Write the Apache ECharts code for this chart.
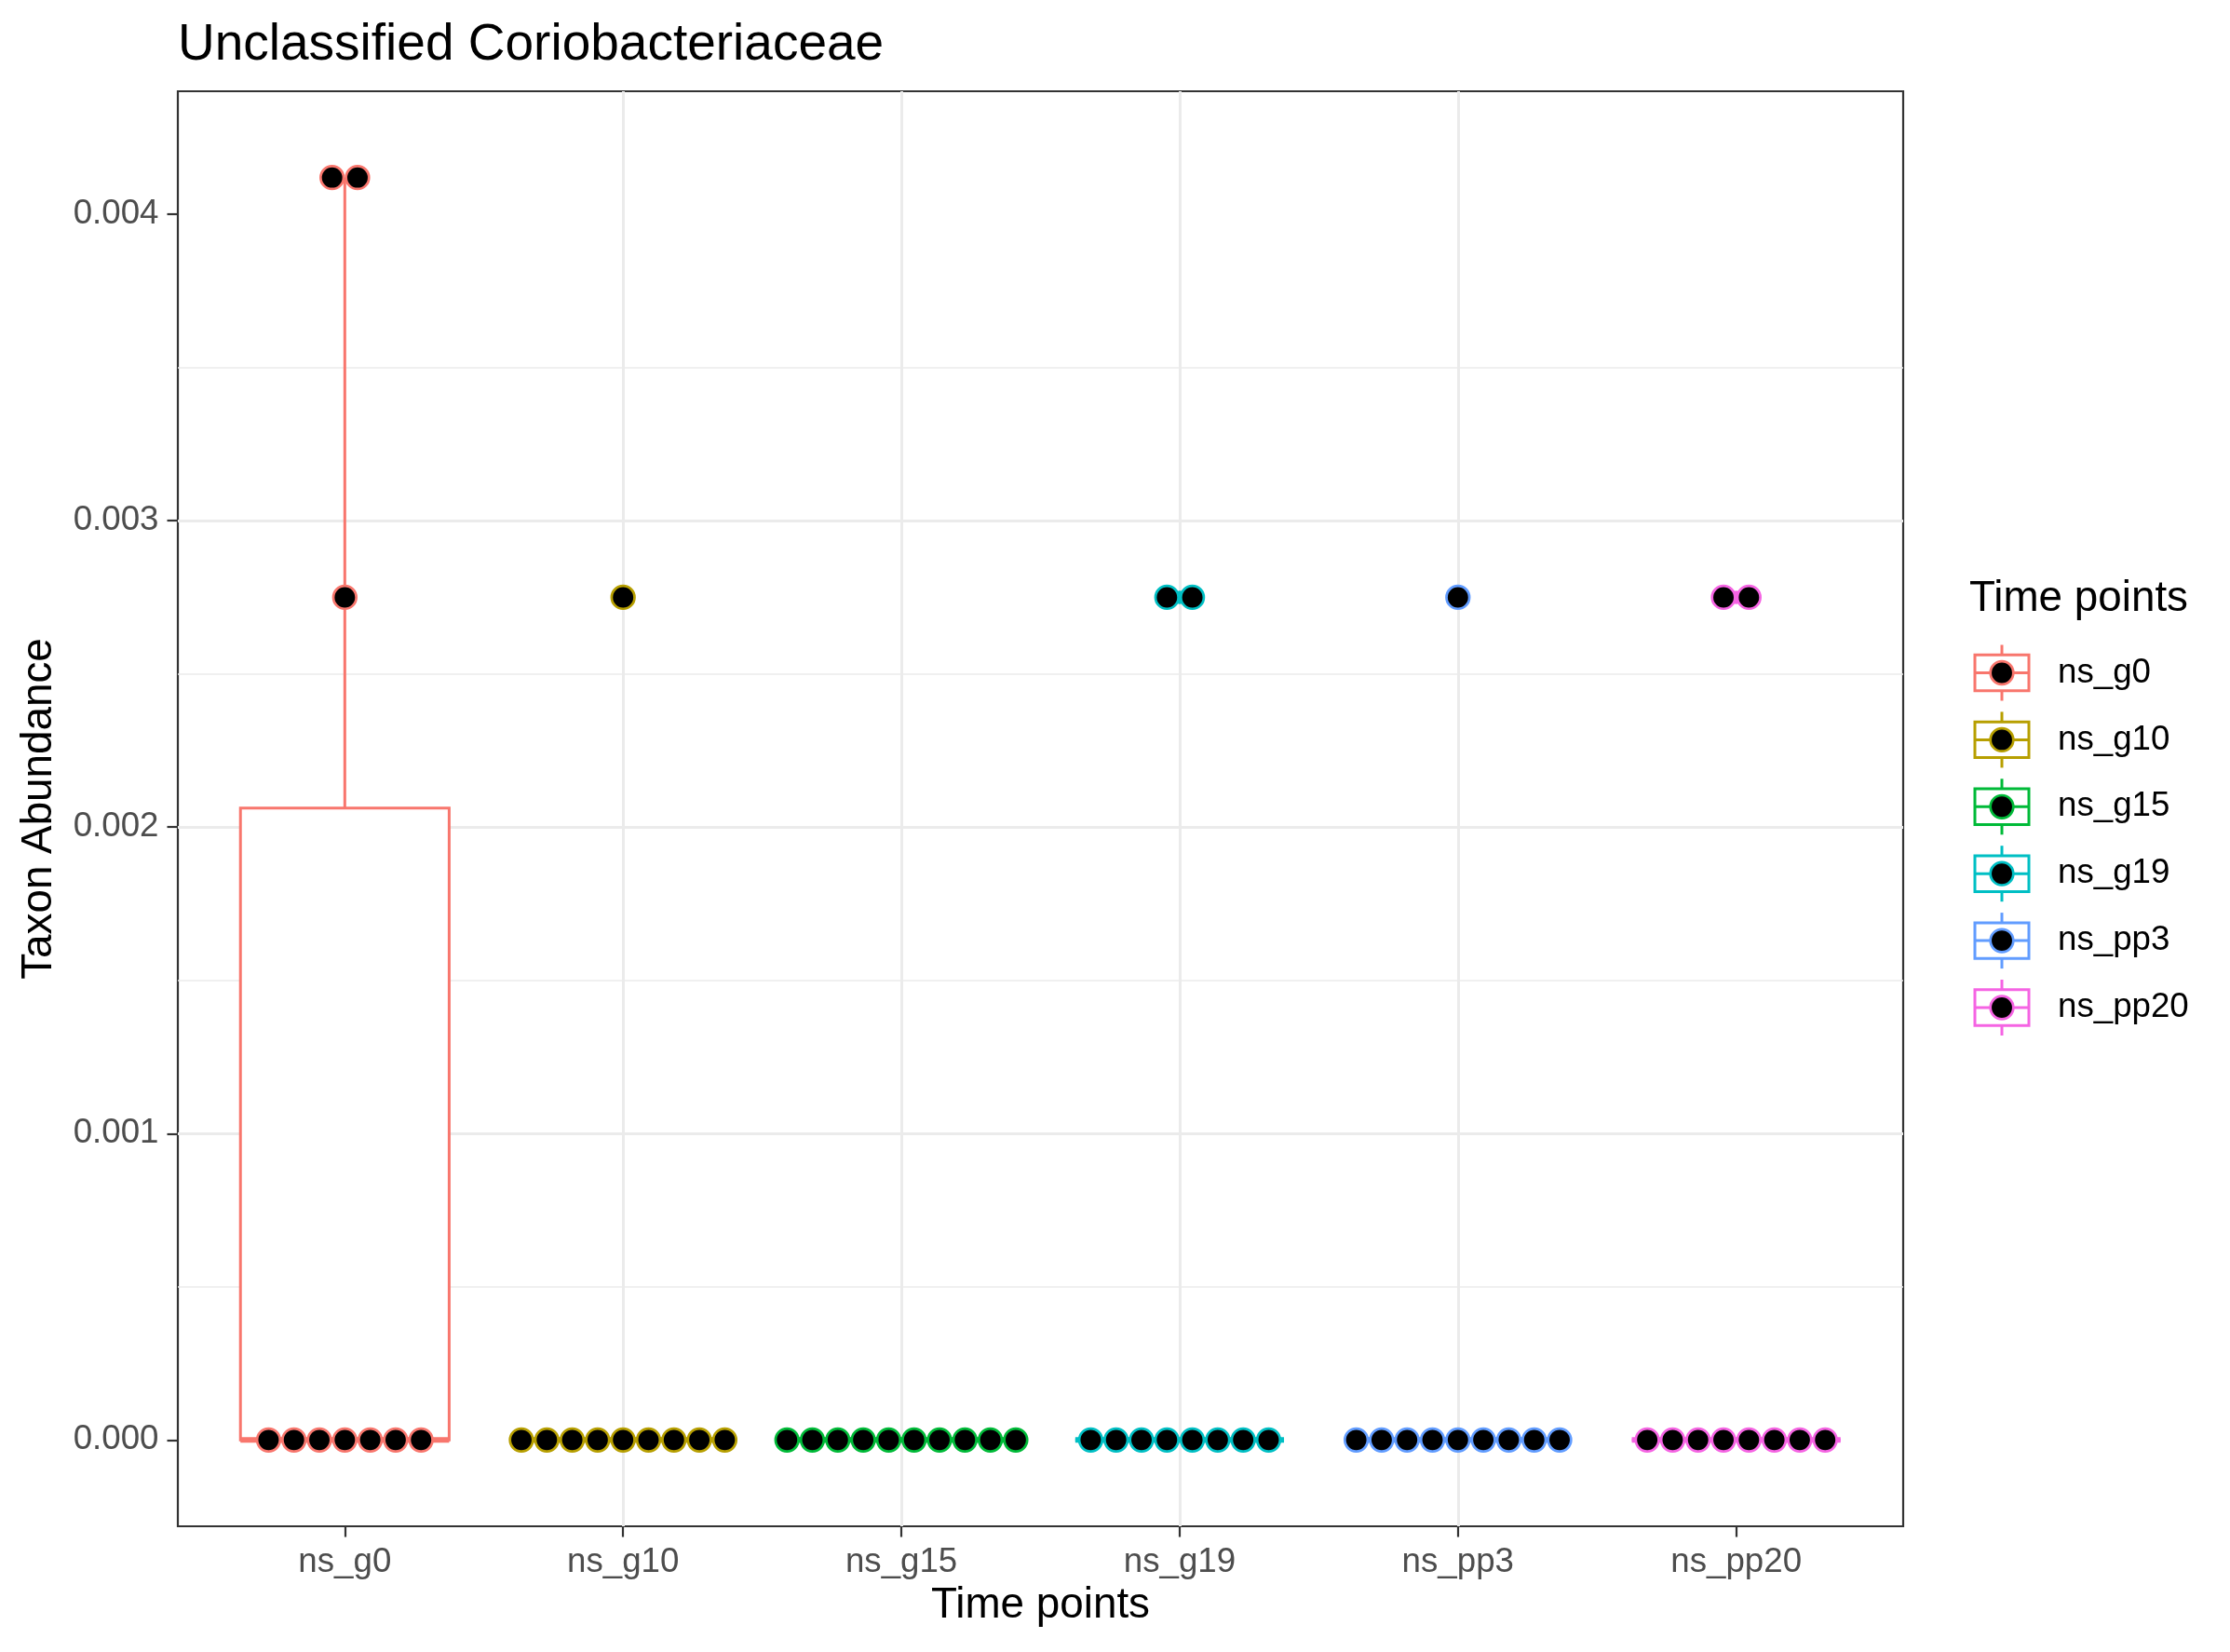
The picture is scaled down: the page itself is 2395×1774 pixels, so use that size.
<!DOCTYPE html>
<html>
<head>
<meta charset="utf-8">
<script src="https://cdn.jsdelivr.net/npm/echarts@6/dist/echarts.min.js"></script>
<style>
html,body{margin:0;padding:0;background:#ffffff;}
#chart{width:2395px;height:1774px;}
</style>
</head>
<body>
<div id="chart"></div>
<script>
// ---- data ----
const categories = ['ns_g0', 'ns_g10', 'ns_g15', 'ns_g19', 'ns_pp3', 'ns_pp20'];
const colors = ['#F8766D', '#B79F00', '#00BA38', '#00BFC4', '#619CFF', '#F564E3'];
const ns_g0   = [0, 0, 0, 0, 0, 0, 0, 0.00275, 0.00412, 0.00412];
const ns_g10  = [0, 0, 0, 0, 0, 0, 0, 0, 0, 0.00275];
const ns_g15  = [0, 0, 0, 0, 0, 0, 0, 0, 0, 0];
const ns_g19  = [0, 0, 0, 0, 0, 0, 0, 0, 0.00275, 0.00275];
const ns_pp3  = [0, 0, 0, 0, 0, 0, 0, 0, 0, 0.00275];
const ns_pp20 = [0, 0, 0, 0, 0, 0, 0, 0, 0.00275, 0.00275];
const yTickValues = [0, 0.001, 0.002, 0.003, 0.004];
const title = 'Unclassified Coriobacteriaceae';
const xTitle = 'Time points';
const yTitle = 'Taxon Abundance';
const legendTitle = 'Time points';

const groups = [ns_g0, ns_g10, ns_g15, ns_g19, ns_pp3, ns_pp20];
const FONT = '"Liberation Sans", Arial, Helvetica, sans-serif';

// ---- stats (ggplot-like, quantile type 7) ----
function quantile(sorted, p) {
  const h = (sorted.length - 1) * p;
  const lo = Math.floor(h), hi = Math.ceil(h);
  return sorted[lo] + (h - lo) * (sorted[hi] - sorted[lo]);
}
const boxData = [];
const outlierData = [];
const dotData = [];
let dataMin = Infinity, dataMax = -Infinity;
groups.forEach((vals, i) => {
  const s = vals.slice().sort((a, b) => a - b);
  const q1 = quantile(s, 0.25), med = quantile(s, 0.5), q3 = quantile(s, 0.75);
  const iqr = q3 - q1;
  const inside = s.filter(v => v >= q1 - 1.5 * iqr && v <= q3 + 1.5 * iqr);
  const lo = Math.min(...inside), hi = Math.max(...inside);
  boxData.push([i, q1, med, q3, lo, hi]);
  s.forEach(v => { if (v < q1 - 1.5 * iqr || v > q3 + 1.5 * iqr) outlierData.push([i, v]); });
  const counts = new Map();
  s.forEach(v => counts.set(v, (counts.get(v) || 0) + 1));
  counts.forEach((n, v) => { for (let j = 0; j < n; j++) dotData.push([i, v, j, n]); });
  dataMin = Math.min(dataMin, s[0]); dataMax = Math.max(dataMax, s[s.length - 1]);
});
// dotplot half-binwidth extends range, then 5% expansion
const halfBin = (dataMax - dataMin) / 30 / 2;
const rLo = dataMin - halfBin, rHi = dataMax + halfBin;
const yMin = rLo - 0.05 * (rHi - rLo);
const yMax = rHi + 0.05 * (rHi - rLo);

const catIdx = categories.map((c, i) => i);
const DOT_R = 12.3, DOT_LW = 2.7, DOT_STEP = 27.3;

const chart = echarts.init(document.getElementById('chart'), null, {renderer: 'canvas'});

// legend graphics
const legendChildren = [{
  type: 'text',
  style: {text: legendTitle, x: 2115, y: 643, verticalAlign: 'middle', align: 'left',
          font: '45.8px ' + FONT, fill: '#000'}
}];
categories.forEach((c, i) => {
  const cy = 722.5 + i * 71.9, cx = 2150, col = colors[i];
  legendChildren.push(
    {type: 'line', shape: {x1: cx, y1: cy - 30, x2: cx, y2: cy + 30}, style: {stroke: col, lineWidth: 3}},
    {type: 'rect', shape: {x: 2121, y: cy - 19.2, width: 58, height: 38.4}, style: {fill: '#fff', stroke: col, lineWidth: 3}},
    {type: 'line', shape: {x1: 2121, y1: cy, x2: 2179, y2: cy}, style: {stroke: col, lineWidth: 3}},
    {type: 'circle', shape: {cx: cx, cy: cy, r: DOT_R}, style: {fill: '#000', stroke: col, lineWidth: DOT_LW}},
    {type: 'text', style: {text: c, x: 2210, y: cy, verticalAlign: 'middle', align: 'left',
                           font: '36.7px ' + FONT, fill: '#000'}}
  );
});

const option = {
  animation: false,
  backgroundColor: '#ffffff',
  textStyle: {fontFamily: FONT},
  title: {
    text: title, left: 186, top: 16,
    textStyle: {fontSize: 55, fontWeight: 'normal', color: '#000', fontFamily: FONT, lineHeight: 55}
  },
  grid: {
    left: 191, top: 98, right: 351, bottom: 135,
    show: true, borderColor: '#333333', borderWidth: 2.2, backgroundColor: '#ffffff'
  },
  xAxis: {
    type: 'value', min: -0.6, max: 5.6,
    name: xTitle, nameLocation: 'middle', nameGap: 62,
    nameTextStyle: {fontSize: 45.8, color: '#000', fontFamily: FONT, lineHeight: 46},
    axisLine: {show: false, onZero: false},
    axisTick: {show: true, customValues: catIdx, length: 11.5, lineStyle: {color: '#333333', width: 2.2}},
    axisLabel: {customValues: catIdx, formatter: v => categories[Math.round(v)],
                fontSize: 36.7, color: '#4D4D4D', margin: 20, fontFamily: FONT, lineHeight: 37},
    splitLine: {show: true, showMinLine: false, showMaxLine: false, lineStyle: {color: '#EBEBEB', width: 3}},
    minorSplitLine: {show: false}
  },
  yAxis: {
    type: 'value', min: yMin, max: yMax,
    name: yTitle, nameLocation: 'middle', nameGap: 126,
    nameTextStyle: {fontSize: 45.8, color: '#000', fontFamily: FONT, lineHeight: 46},
    axisLine: {show: false, onZero: false},
    axisTick: {show: true, customValues: yTickValues, length: 11.5, lineStyle: {color: '#333333', width: 2.2}},
    axisLabel: {customValues: yTickValues, formatter: v => v.toFixed(3),
                fontSize: 36.7, color: '#4D4D4D', margin: 20.5, fontFamily: FONT},
    splitLine: {show: true, showMinLine: false, showMaxLine: false, lineStyle: {color: '#EBEBEB', width: 3}},
    minorTick: {show: false, splitNumber: 2},
    minorSplitLine: {show: true, lineStyle: {color: '#EBEBEB', width: 1.5}}
  },
  series: [
    {
      type: 'custom', name: 'box', data: boxData, z: 2,
      renderItem: function (params, api) {
        const i = api.value(0), col = colors[i], hw = 0.375;
        const tl = api.coord([i - hw, api.value(3)]);
        const br = api.coord([i + hw, api.value(1)]);
        const md = api.coord([i, api.value(2)]);
        const lo = api.coord([i, api.value(4)]);
        const hi = api.coord([i, api.value(5)]);
        return {type: 'group', children: [
          {type: 'line', shape: {x1: hi[0], y1: hi[1], x2: hi[0], y2: tl[1]}, style: {stroke: col, lineWidth: 3}},
          {type: 'line', shape: {x1: lo[0], y1: br[1], x2: lo[0], y2: lo[1]}, style: {stroke: col, lineWidth: 3}},
          {type: 'rect', shape: {x: tl[0], y: tl[1], width: br[0] - tl[0], height: br[1] - tl[1]},
           style: {fill: '#ffffff', stroke: col, lineWidth: 3}},
          {type: 'line', shape: {x1: tl[0], y1: md[1], x2: br[0], y2: md[1]}, style: {stroke: col, lineWidth: 6}}
        ]};
      }
    },
    {
      type: 'custom', name: 'outliers', data: outlierData, z: 3,
      renderItem: function (params, api) {
        const i = api.value(0);
        const p = api.coord([i, api.value(1)]);
        return {type: 'circle', shape: {cx: p[0], cy: p[1], r: 7}, style: {fill: colors[i]}};
      }
    },
    {
      type: 'custom', name: 'dots', data: dotData, z: 4,
      renderItem: function (params, api) {
        const i = api.value(0), j = api.value(2), n = api.value(3);
        const p = api.coord([i, api.value(1)]);
        const x = p[0] + (j - (n - 1) / 2) * DOT_STEP;
        return {type: 'circle', shape: {cx: x, cy: p[1], r: DOT_R},
                style: {fill: '#000000', stroke: colors[i], lineWidth: DOT_LW}};
      }
    }
  ],
  graphic: [{type: 'group', children: legendChildren}]
};
chart.setOption(option);
</script>
</body>
</html>
